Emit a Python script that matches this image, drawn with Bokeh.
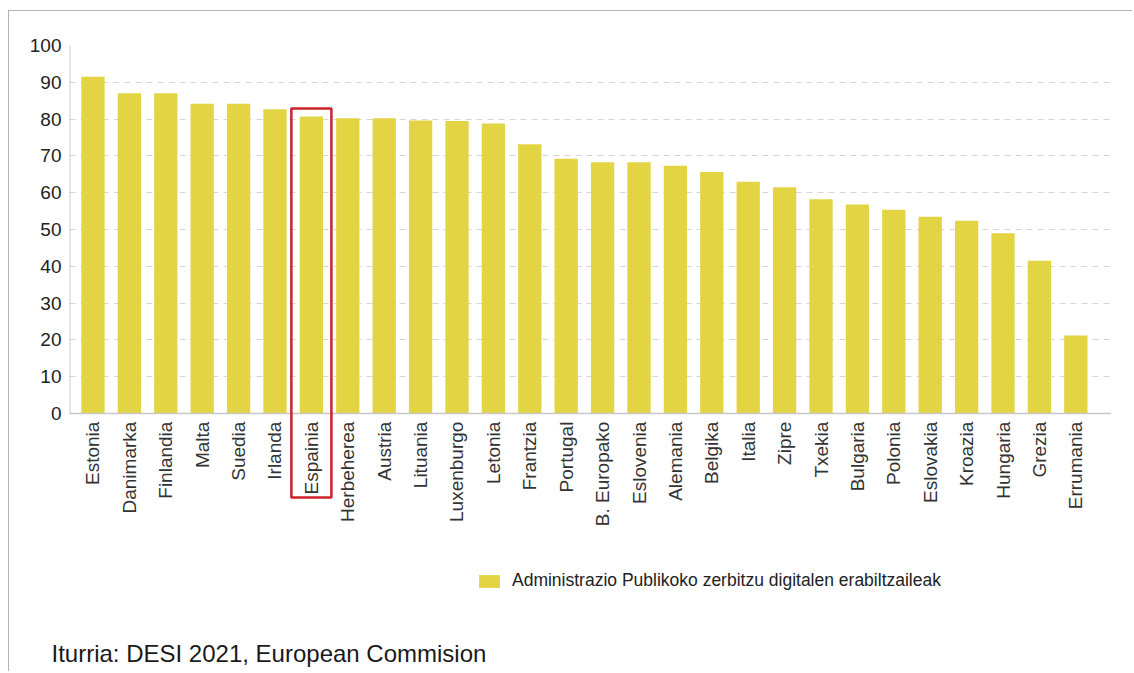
from bokeh.plotting import figure
from bokeh.models import (Range1d, FixedTicker, Legend, LegendItem, Title,
                          BoxAnnotation, ColumnDataSource, Span)
from bokeh.core.properties import value
from bokeh.embed import file_html
from bokeh.resources import INLINE
import math

countries = ["Estonia", "Danimarka", "Finlandia", "Malta", "Suedia", "Irlanda",
             "Espainia", "Herbeherea", "Austria", "Lituania", "Luxenburgo",
             "Letonia", "Frantzia", "Portugal", "B. Europako", "Eslovenia",
             "Alemania", "Belgika", "Italia", "Zipre", "Txekia", "Bulgaria",
             "Polonia", "Eslovakia", "Kroazia", "Hungaria", "Grezia", "Errumania"]
values = [91.5, 87.0, 87.0, 84.2, 84.2, 82.7, 80.7, 80.2, 80.2, 79.6, 79.5,
          78.8, 73.2, 69.2, 68.3, 68.3, 67.3, 65.6, 63.0, 61.5, 58.2, 56.8,
          55.4, 53.5, 52.4, 49.0, 41.5, 21.2]
y_ticks = [0, 10, 20, 30, 40, 50, 60, 70, 80, 90, 100]
series_name = "Administrazio Publikoko zerbitzu digitalen erabiltzaileak"
source_text = "Iturria: DESI 2021, European Commision"
highlight = "Espainia"

BAR = "#e3d444"
idx = list(range(len(countries)))
src = ColumnDataSource(dict(x=idx, top=values, name=countries))

X0, X1 = -0.645, len(countries) - 0.02
Y0, Y1 = -59.5, 100
p = figure(width=1124, height=661, output_backend="svg", toolbar_location=None,
           x_range=Range1d(X0, X1), y_range=Range1d(Y0, Y1),
           x_axis_location=None,
           min_border_left=60, min_border_top=34, min_border_right=22,
           min_border_bottom=40)
p.margin = (10, 0, 0, 8)
p.styles = {"border-top": "1px solid #b2b2be", "border-left": "1px solid #b2b2be"}
p.outline_line_color = None
p.background_fill_color = "white"
p.border_fill_color = "white"

bars = p.vbar(x="x", top="top", width=0.64, source=src, fill_color=BAR,
              line_color=None)

# y axis
p.yaxis.ticker = FixedTicker(ticks=y_ticks)
p.yaxis.major_label_text_font = "Liberation Sans"
p.yaxis.major_label_text_font_size = "19px"
p.yaxis.major_label_text_color = "#222222"
p.yaxis.major_label_standoff = 8
p.yaxis.major_tick_out = 0
p.yaxis.major_tick_in = 0
p.yaxis.major_tick_line_color = None
p.yaxis.minor_tick_line_color = None
p.yaxis.axis_line_color = None
p.segment(x0=[X0], y0=[min(y_ticks)], x1=[X0], y1=[max(y_ticks)],
          line_color="#cccccc", line_width=2)

p.xgrid.grid_line_color = None
p.ygrid.grid_line_color = "#d6d6d6"
p.ygrid.grid_line_dash = "6 5"
p.ygrid.grid_line_width = 1

# category baseline + labels
p.add_layout(Span(location=0, dimension="width", line_color="#c8c8c8",
                  line_width=1.5))
p.text(x=idx, y=[-2.2] * len(idx), text=countries, angle=math.pi / 2,
       text_align="right", text_baseline="middle",
       text_font=value("Liberation Sans"), text_font_size="19px",
       text_color="#333333")

# highlight box around Espainia (bar + label)
hi = countries.index(highlight)
box = BoxAnnotation(left=hi - 0.55, right=hi + 0.55, top=values[hi] + 2.2,
                    bottom=-22.8, fill_alpha=0, line_color="#cc2229",
                    line_width=2.5, line_alpha=1)
p.add_layout(box)

# legend
legend = Legend(items=[LegendItem(label=series_name, renderers=[bars])],
                location=(407, 41), orientation="horizontal",
                glyph_width=26, glyph_height=16, label_standoff=10,
                margin=0, padding=0, border_line_color=None,
                background_fill_alpha=0,
                label_text_font="Liberation Sans",
                label_text_font_size="17.5px", label_text_color="#222222")
p.add_layout(legend)

# source footer
footer = Title(text=source_text, align="left", offset=-18, standoff=10,
               text_font="Liberation Sans", text_font_size="24px",
               text_font_style="normal", text_color="#1a1a1a")
p.add_layout(footer, "below")

open("out.html", "w").write(file_html(p, INLINE))
